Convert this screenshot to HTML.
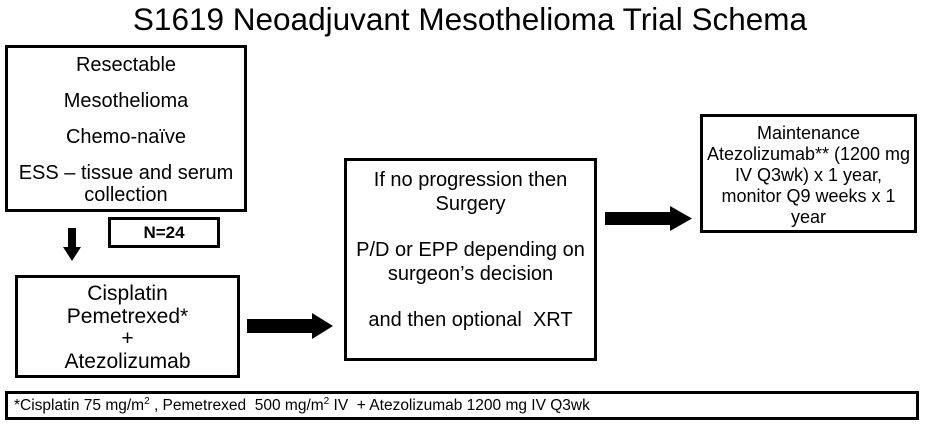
<!DOCTYPE html>
<html><head><style>
body{margin:0;width:940px;height:425px;background:#fff;position:relative;font-family:"Liberation Sans",Arial,sans-serif;color:#000;overflow:hidden}
.b{position:absolute;box-sizing:border-box;border:3px solid #000;text-align:center;font-size:20px;line-height:22px;white-space:nowrap}
.t{position:absolute;left:0;width:940px;top:1px;text-align:center;font-size:31.5px;font-family:"Liberation Sans",sans-serif}
</style></head><body>
<div class="t">S1619 Neoadjuvant Mesothelioma Trial Schema</div>
<div class="b" style="left:5px;top:45px;width:242px;height:167px;padding-top:6px">Resectable<div style="height:14px"></div>Mesothelioma<div style="height:14px"></div>Chemo-naïve<div style="height:14px"></div>ESS – tissue and serum<br>collection</div>
<div class="b" style="left:108px;top:217px;width:112px;height:31px;font-weight:bold;font-size:17px;line-height:25px">N=24</div>
<svg style="position:absolute;left:0;top:0" width="940" height="425">
<rect x="68" y="228" width="8" height="20" fill="#000"/><polygon points="63,247 81,247 72,261" fill="#000"/>
<rect x="247" y="319" width="66" height="14" fill="#000"/><polygon points="312,313 333,326 312,339" fill="#000"/>
<rect x="605" y="212" width="66" height="13" fill="#000"/><polygon points="670,206 692,218.5 670,231" fill="#000"/>
</svg>
<div class="b" style="left:15px;top:275px;width:225px;height:103px;padding-top:5px;font-size:21px;line-height:22.5px">Cisplatin<br>Pemetrexed*<br>+<br>Atezolizumab</div>
<div class="b" style="left:344px;top:158px;width:253px;height:203px;padding-top:7px;line-height:24px">If no progression then<br>Surgery<div style="height:22px"></div>P/D or EPP depending on<br>surgeon’s decision<div style="height:22px"></div>and then optional&nbsp; XRT</div>
<div class="b" style="left:700px;top:114px;width:217px;height:119px;padding-top:6px;font-size:18px;line-height:21px">Maintenance<br>Atezolizumab** (1200 mg<br>IV Q3wk) x 1 year,<br>monitor Q9 weeks x 1<br>year</div>
<div class="b" style="left:5px;top:391px;width:914px;height:29px;text-align:left;font-size:15.5px;line-height:23px;padding-left:6px">*Cisplatin 75 mg/m<sup style="font-size:10px;line-height:0">2</sup> , Pemetrexed&nbsp; 500 mg/m<sup style="font-size:10px;line-height:0">2</sup> IV&nbsp; + Atezolizumab 1200 mg IV Q3wk</div>
</body></html>
